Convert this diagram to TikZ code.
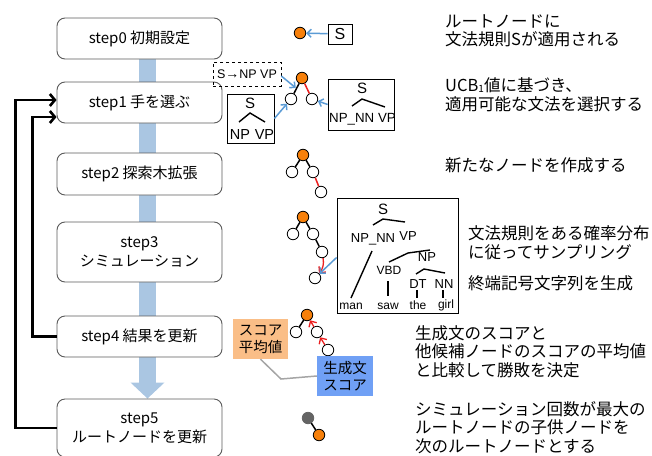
\documentclass[tikz,border=0pt]{standalone}
\usepackage{fontspec}
\setmainfont{Noto Sans CJK JP}
\newfontfamily\arial{Liberation Sans}
\usetikzlibrary{arrows.meta,backgrounds,calc}
\definecolor{barblue}{RGB}{170,198,226}
\definecolor{arrblue}{RGB}{91,155,213}
\definecolor{tnorange}{RGB}{247,128,10}
\definecolor{boxorange}{RGB}{250,190,135}
\definecolor{boxblue}{RGB}{112,160,245}
\definecolor{edgegray}{RGB}{90,90,90}
\definecolor{linegray}{RGB}{165,165,165}
\definecolor{nodegray}{RGB}{100,100,100}
\definecolor{redline}{RGB}{235,30,30}
\begin{document}
\begin{tikzpicture}[x=1pt,y=-1pt,
  stepbox/.style={draw=edgegray, line width=0.9pt, rounded corners=8pt, fill=white,
    minimum width=165pt, align=center, font=\fontsize{15}{19}\selectfont, inner sep=0pt},
  tn/.style={circle, draw=black, line width=0.8pt, fill=white, minimum size=11.5pt, inner sep=0pt},
  tno/.style={tn, fill=tnorange},
  tng/.style={tn, fill=nodegray, draw=nodegray},
  edge/.style={line width=1.5pt, black},
  redge/.style={line width=1.5pt, redline},
  rarrow/.style={line width=1.3pt, redline, -{Straight Barb[length=4.5pt,width=9pt]}},
  barrow/.style={line width=1.5pt, arrblue, -{Straight Barb[length=4pt,width=8pt]}},
  fb/.style={line width=2.6pt, black, -{Straight Barb[length=5pt,width=12pt]}},
  rtext/.style={anchor=west, align=left, inner sep=0pt, font=\fontsize{16.5}{18.5}\selectfont},
  lbl/.style={inner sep=0pt, font=\arial\fontsize{13}{13}\selectfont},
  wrd/.style={inner sep=0pt, font=\arial\fontsize{12}{12}\selectfont},
  sym/.style={inner sep=0pt, font=\arial\fontsize{15}{15}\selectfont},
  caret/.style={line width=1.4pt, black},
]
\useasboundingbox (0,0) rectangle (652,455);

% step boxes
\node[stepbox, minimum height=41pt] (s0) at (139.5,38.5) {step0 初期設定};
\node[stepbox, minimum height=41pt] (s1) at (139.5,102.5) {step1 手を選ぶ};
\node[stepbox, minimum height=42pt] (s2) at (139.5,174) {step2 探索木拡張};
\node[stepbox, minimum height=60pt] (s3) at (139.5,252) {step3\\シミュレーション};
\node[stepbox, minimum height=41pt] (s4) at (139.5,336.5) {step4 結果を更新};
\node[stepbox, minimum height=58pt] (s5) at (139.5,428) {step5\\ルートノードを更新};

\begin{scope}[on background layer]
\draw[barblue, line width=17pt, -{Triangle[length=16pt,width=33pt]}]
  ([xshift=8pt]s0.south) -- ([xshift=8pt]s5.north);
\end{scope}

% feedback arrows
\draw[fb] (s5.west) -- ++(-41,0) |- ([yshift=2.5pt]s1.west);
\draw[fb] (s4.west) -- ++(-24,0) |- ([yshift=-14.5pt]s1.west);

% step0
\node[tno] (r0) at (300,33) {};
\node[draw, line width=0.8pt, minimum width=24pt, minimum height=20pt, inner sep=0pt, font=\arial\fontsize{16}{16}\selectfont] (sb) at (340,34) {S};
\draw[barrow] (sb) -- (r0);

% step1
\node[tno] (r1) at (302,78) {};
\node[tn] (a1) at (291,99) {};
\node[tn] (b1) at (312,99) {};
\draw[edge] (r1) -- (a1);
\draw[redge] (r1) -- (b1);
\node[draw, dashed, line width=0.6pt, minimum width=68pt, minimum height=24pt, inner sep=0pt,
  font=\arial\fontsize{12.5}{12.5}\selectfont] (rule) at (247,74) {S{\fontsize{14}{14}\selectfont →}NP VP};
\coordinate (m1) at ($(r1)!0.5!(a1)$);
\draw[barrow, shorten >=1pt] ([yshift=-2pt]rule.east) -- (m1);

\node[draw, line width=0.8pt, minimum width=47pt, minimum height=49pt, fill=white] (lb) at (250.5,118.5) {};
\node[sym] (lS) at (250,103) {S};
\coordinate (lc1) at (239,122); \coordinate (lc2) at (250,113); \coordinate (lc3) at (265,122);
\draw[caret] (lc1) -- (lc2) -- (lc3);
\node[sym, font=\arial\fontsize{14.5}{14.5}\selectfont] (lNP) at (252,135) {NP\,\,VP};
\draw[barrow] (lb.east) -- (a1);

\node[draw, line width=0.8pt, minimum width=66pt, minimum height=51pt] (rb) at (361,104.5) {};
\node[sym] (rS) at (362,88) {S};
\coordinate (rc1) at (352,106); \coordinate (rc2) at (362,99); \coordinate (rc3) at (385,107);
\draw[caret] (rc1) -- (rc2) -- (rc3);
\node[sym, font=\arial\fontsize{13.3}{13.3}\selectfont] (rNP) at (362.5,119) {NP\_NN VP};
\draw[barrow] (rb.west) -- (b1);

% step2
\node[tno] (r2) at (303,155) {};
\node[tn] (a2) at (292,172) {};
\node[tn] (b2) at (313,172) {};
\node[tn] (c2) at (321,192) {};
\draw[edge] (r2) -- (a2);
\draw[edge] (r2) -- (b2);
\draw[redge] (b2) -- (c2);

% step3
\node[tno] (r3) at (303,217) {};
\node[tn] (a3) at (293,234) {};
\node[tn] (b3) at (313,234) {};
\node[tn] (c3) at (322,252) {};
\node[tn] (d3) at (315,278) {};
\draw[edge] (r3) -- (a3);
\draw[edge] (r3) -- (b3);
\draw[edge] (b3) -- (c3);
\draw[rarrow] (c3) to[bend left=25] (d3);

\node[draw, line width=0.8pt, minimum width=121pt, minimum height=115pt] (tb) at (397.5,255.5) {};
\draw[barrow] ([yshift=-2pt]tb.west) -- (d3);
\node[sym] (tS) at (383,209) {S};
\coordinate (tc1) at (373,225); \coordinate (tc2) at (383,219); \coordinate (tc3) at (405,222);
\draw[caret] (tc1) -- (tc2) -- (tc3);
\node[lbl] (tNN) at (373,239) {NP\_NN};
\node[lbl] (tVP) at (408,236) {VP};
\coordinate (vc1) at (389,262); \coordinate (vc2) at (408,253); \coordinate (vc3) at (430,250);
\draw[caret] (vc1) -- (vc2) -- (vc3);
\node[lbl, font=\arial\fontsize{12}{12}\selectfont] (tVBD) at (389,270) {VBD};
\node[lbl] (tNP) at (427,257) {NP};
\coordinate (nc1) at (416,274); \coordinate (nc2) at (424,269); \coordinate (nc3) at (445,273);
\draw[caret] (nc1) -- (nc2) -- (nc3);
\node[lbl] (tDT) at (418,284) {DT};
\node[lbl] (tN2) at (444,284) {NN};
\node[wrd] (wman) at (351,306) {man};
\node[wrd] (wsaw) at (388,306) {saw};
\node[wrd] (wthe) at (418,305) {the};
\node[wrd] (wgirl) at (446,305) {girl};
\coordinate (l1a) at (372,251); \coordinate (l1b) at (351,298);
\draw[caret] (l1a) -- (l1b);
\coordinate (l2a) at (388,281); \coordinate (l2b) at (388,296);
\draw[caret] (l2a) -- (l2b);
\coordinate (l3a) at (417,290); \coordinate (l3b) at (417,298);
\draw[caret] (l3a) -- (l3b);
\coordinate (l4a) at (443,290); \coordinate (l4b) at (443,298);
\draw[caret] (l4a) -- (l4b);

% step4
\node[tno] (r4) at (307,315) {};
\node[tn] (a4) at (296,332) {};
\node[tn] (b4) at (317,332) {};
\node[tn] (c4) at (328,350) {};
\draw[edge] (r4) -- (a4);
\draw[rarrow] (b4) -- (r4);
\draw[rarrow] (c4) -- (b4);
\node[fill=boxorange, minimum width=55pt, minimum height=40pt, inner sep=0pt, align=center,
  font=\fontsize{14.5}{17}\selectfont] (ob) at (260.5,339) {スコア\\平均値};
\node[fill=boxblue, minimum width=56pt, minimum height=40pt, inner sep=0pt, align=center,
  font=\fontsize{14.5}{17}\selectfont] (bb) at (345,376) {生成文\\スコア};
\coordinate (gk) at (281,379);
\draw[linegray, line width=1.5pt] (ob.south) -- (gk) -- (bb.west);

% step5
\node[tng] (g5) at (308,418) {};
\node[tno] (o5) at (319,435) {};
\draw[edge] (g5) -- (o5);

% right texts
\node[rtext] (t0) at (445,31) {ルートノードに\\文法規則Sが適用される};
\node[rtext] (t1) at (445,95) {UCB\raisebox{-1pt}{\fontsize{10}{10}\selectfont 1}値に基づき、\\適用可能な文法を選択する};
\node[rtext] (t2) at (445,165) {新たなノードを作成する};
\node[rtext] (t3) at (468,242.5) {文法規則をある確率分布\\に従ってサンプリング};
\node[rtext] (t3b) at (468,283) {終端記号文字列を生成};
\node[rtext] (t4) at (415,351.5) {生成文のスコアと\\他候補ノードのスコアの平均値\\と比較して勝敗を決定};
\node[rtext] (t5) at (415,427.5) {シミュレーション回数が最大の\\ルートノードの子供ノードを\\次のルートノードとする};
\end{tikzpicture}
\end{document}
